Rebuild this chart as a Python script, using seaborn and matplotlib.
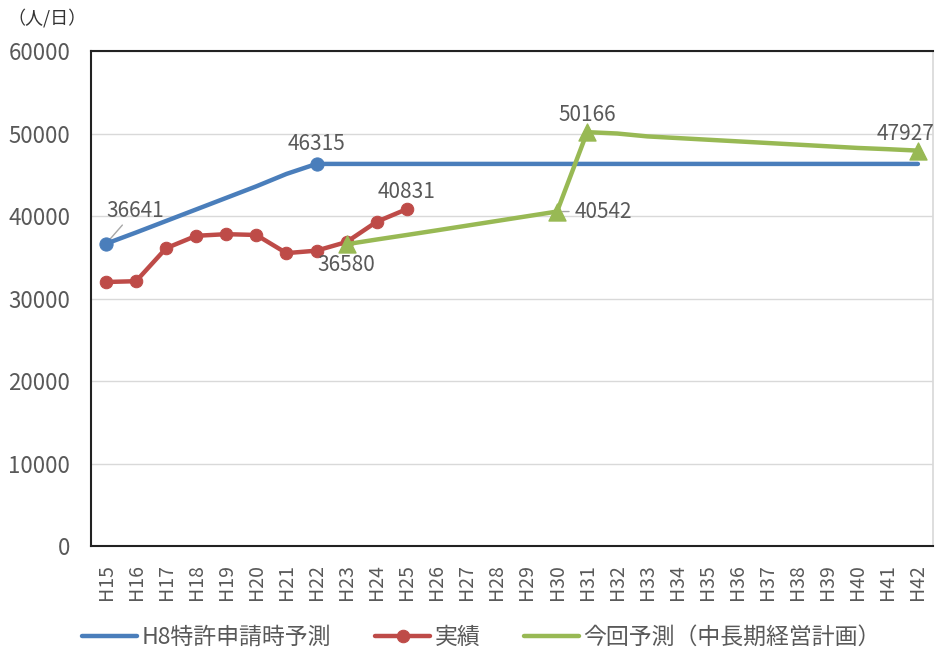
import numpy as np
import pandas as pd
import matplotlib
matplotlib.use("Agg")
import matplotlib.pyplot as plt
import seaborn as sns

categories = ["H15","H16","H17","H18","H19","H20","H21","H22","H23","H24","H25","H26","H27","H28",
              "H29","H30","H31","H32","H33","H34","H35","H36","H37","H38","H39","H40","H41","H42"]

h8_forecast = [36641, 38000, 39400, 40800, 42200, 43600, 45100, 46315, 46315, 46315, 46315, 46315,
               46315, 46315, 46315, 46315, 46315, 46315, 46315, 46315, 46315, 46315, 46315, 46315,
               46315, 46315, 46315, 46315]
actual = [32000, 32100, 36100, 37600, 37800, 37700, 35500, 35800, 36850, 39300, 40831]
new_forecast = [36580, 37150, 37700, 38260, 38830, 39400, 39970, 40542, 50166, 50000, 49650, 49450,
                49250, 49050, 48850, 48650, 48450, 48250, 48100, 47927]

series_names = ["H8特許申請時予測", "実績", "今回予測（中長期経営計画）"]
yticks = [0, 10000, 20000, 30000, 40000, 50000, 60000]

sns.set_theme(style="white")
plt.rcParams['font.family'] = ['Noto Sans CJK JP', 'DejaVu Sans']

BLUE = "#4a7ebb"
RED = "#be4b48"
GREEN = "#98b954"
GREY = "#595959"

fig = plt.figure(figsize=(9.35, 6.49), dpi=100)
ax = fig.add_axes([0.0973, 0.1587, 0.9005, 0.7627])

x_all = np.arange(len(categories))
df_blue = pd.DataFrame({"x": x_all, "y": h8_forecast})
df_red = pd.DataFrame({"x": x_all[:len(actual)], "y": actual})
start_green = categories.index("H23")
df_green = pd.DataFrame({"x": x_all[start_green:start_green + len(new_forecast)], "y": new_forecast})

sns.lineplot(data=df_blue, x="x", y="y", ax=ax, color=BLUE, lw=3.2, label=series_names[0],
             solid_capstyle="round")
sns.lineplot(data=df_red, x="x", y="y", ax=ax, color=RED, lw=3.2, marker="o", markersize=9,
             markeredgecolor=RED, label=series_names[1])
sns.lineplot(data=df_green, x="x", y="y", ax=ax, color=GREEN, lw=3.2, label=series_names[2])

# markers at labelled points
bi = [0, 7]
sns.scatterplot(x=df_blue["x"].iloc[bi], y=df_blue["y"].iloc[bi], ax=ax, color=BLUE, s=90,
                edgecolor=BLUE, zorder=5, legend=False)
gi = [0, 7, 8, len(new_forecast) - 1]
sns.scatterplot(x=df_green["x"].iloc[gi], y=df_green["y"].iloc[gi], ax=ax, color=GREEN, s=150,
                marker="^", edgecolor=GREEN, zorder=5, legend=False)

ax.set_xlim(-0.5, len(categories) - 0.5)
ax.set_ylim(0, 60000)
ax.set_yticks(yticks)
ax.set_yticklabels([str(v) for v in yticks], fontsize=16, color=GREY)
ax.set_xticks(x_all)
ax.set_xticklabels(categories, rotation=90, fontsize=14, color=GREY)
ax.tick_params(axis="y", length=0, pad=15)
ax.tick_params(axis="x", length=0, pad=13)
ax.set_xlabel("")
ax.set_ylabel("")
ax.grid(axis="y", color="#d9d9d9", lw=1)
ax.set_axisbelow(True)
for s in ["left", "top", "bottom"]:
    ax.spines[s].set_color("#222222")
    ax.spines[s].set_linewidth(1.5)
ax.spines["right"].set_color("#d9d9d9")

lab_kw = dict(fontsize=15, color=GREY)
# data labels
ax.annotate(str(h8_forecast[0]), xy=(0, h8_forecast[0]), xytext=(0.0, 39300), ha="left", va="bottom",
            arrowprops=dict(arrowstyle="-", color="#a6a6a6", lw=1, shrinkA=0, shrinkB=3), **lab_kw)
ax.text(7, h8_forecast[7] + 1100, str(h8_forecast[7]), ha="center", va="bottom", **lab_kw)
ax.text(10, actual[10] + 700, str(actual[10]), ha="center", va="bottom", **lab_kw)
ax.text(start_green, new_forecast[0] - 1200, str(new_forecast[0]), ha="center", va="top", **lab_kw)
ax.annotate(str(new_forecast[7]), xy=(start_green + 7, new_forecast[7]), xytext=(start_green + 7.6, new_forecast[7]),
            ha="left", va="center",
            arrowprops=dict(arrowstyle="-", color="#a6a6a6", lw=1, shrinkA=2, shrinkB=4), **lab_kw)
ax.text(start_green + 8, new_forecast[8] + 700, str(new_forecast[8]), ha="center", va="bottom", **lab_kw)
ax.text(len(categories) - 0.45, new_forecast[-1] + 700, str(new_forecast[-1]), ha="right",
        va="bottom", clip_on=False, **lab_kw)

fig.text(0.008, 0.972, "（人/日）", fontsize=13, color="#333333", ha="left", va="center")

leg = ax.legend(loc="center", bbox_to_anchor=(0.464, -0.184), ncol=3, frameon=False,
                fontsize=16.5, handlelength=2.4, columnspacing=1.9, handletextpad=0.2,
                borderaxespad=0, borderpad=0)
for t in leg.get_texts():
    t.set_color(GREY)

fig.savefig("out.png", dpi=100)
